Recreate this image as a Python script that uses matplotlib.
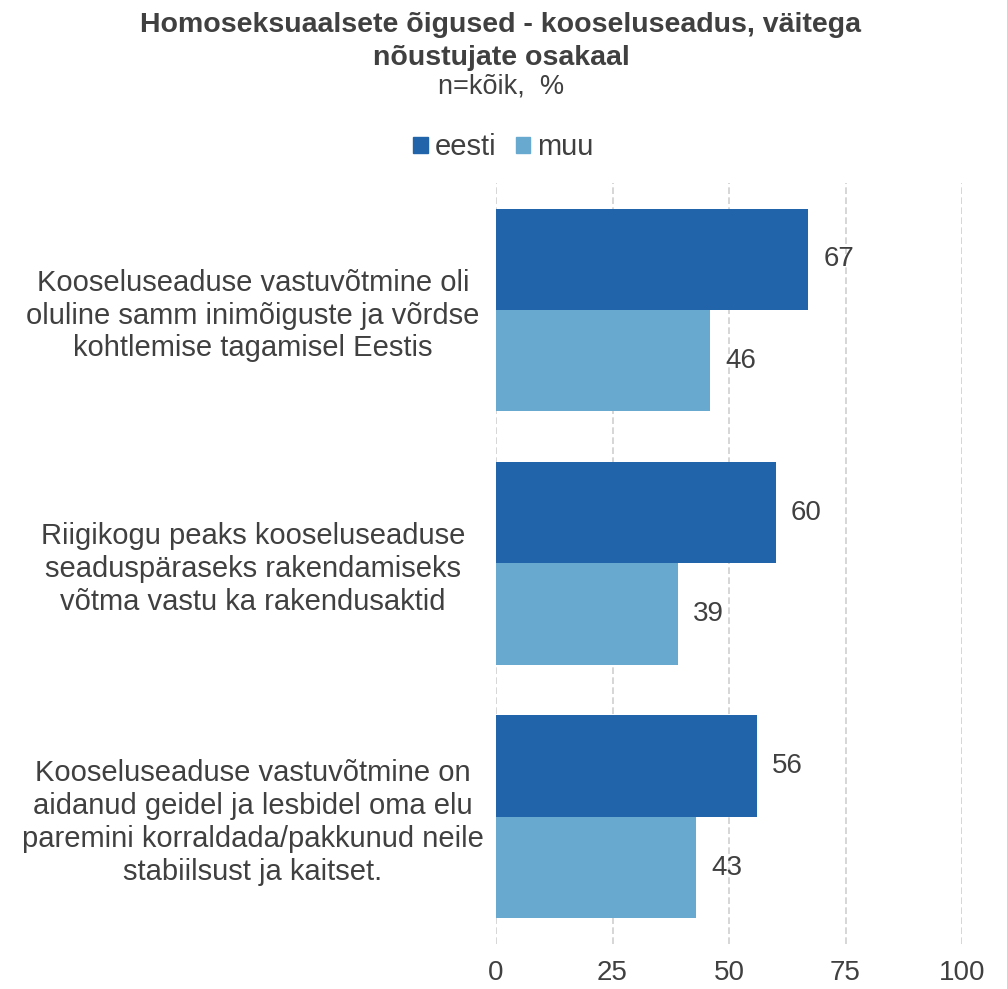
import matplotlib
matplotlib.use("Agg")
import matplotlib.pyplot as plt
from matplotlib.patches import Patch
import numpy as np

plt.rcParams['font.family'] = ['Liberation Sans', 'DejaVu Sans']

categories = [
    "Kooseluseaduse vastuvõtmine oli\noluline samm inimõiguste ja võrdse\nkohtlemise tagamisel Eestis",
    "Riigikogu peaks kooseluseaduse\nseaduspäraseks rakendamiseks\nvõtma vastu ka rakendusaktid",
    "Kooseluseaduse vastuvõtmine on\naidanud geidel ja lesbidel oma elu\nparemini korraldada/pakkunud neile\nstabiilsust ja kaitset.",
]
series_names = ["eesti", "muu"]
eesti = [67, 60, 56]
muu = [46, 39, 43]
xticks = [0, 25, 50, 75, 100]

c_dark = "#2164A9"
c_light = "#67A9CF"
txt = "#404040"

fig = plt.figure(figsize=(10.07, 9.89), dpi=100)
ax = fig.add_axes([0.4926, 0.046, 0.4627, 0.7685])

y = np.arange(len(categories))
h = 0.4
b1 = ax.barh(y - h/2, eesti, height=h, color=c_dark, zorder=3)
b2 = ax.barh(y + h/2, muu, height=h, color=c_light, zorder=3)

for bars, vals in ((b1, eesti), (b2, muu)):
    for rect, v in zip(bars, vals):
        ax.text(rect.get_width() + 3.2, rect.get_y() + rect.get_height()/2, f"{v}",
                va='center', ha='left', fontsize=20, color=txt)

ax.set_xlim(0, 100)
ax.set_ylim(len(categories) - 0.5, -0.5)
ax.set_xticks(xticks)
ax.set_xticklabels([str(t) for t in xticks], fontsize=20, color=txt)
ax.set_yticks(y)
ax.set_yticklabels(categories, fontsize=21, color=txt, ha='center', linespacing=1.22)
ax.tick_params(axis='y', length=0, pad=175)
ax.tick_params(axis='x', length=0, pad=12)
ax.xaxis.grid(True, color='#D0D0D0', linestyle=(0, (4, 2)), linewidth=1.2, zorder=0)
for s in ax.spines.values():
    s.set_visible(False)

fig.text(0.4975, 0.9876, "Homoseksuaalsete õigused - kooseluseadus, väitega\nnõustujate osakaal",
         ha='center', va='top', fontsize=20.5, fontweight='bold', color=txt, linespacing=1.32)
fig.text(0.4975, 0.926, "n=kõik,  %", ha='center', va='top', fontsize=19.5, color=txt)

handles = [Patch(color=c_dark), Patch(color=c_light)]
fig.legend(handles, series_names, loc='center', bbox_to_anchor=(0.5, 0.851), ncol=2,
           frameon=False, fontsize=21, handlelength=0.5, handleheight=0.5,
           handletextpad=0.25, columnspacing=0.65, labelcolor=txt)

fig.savefig("out.png", dpi=100)
